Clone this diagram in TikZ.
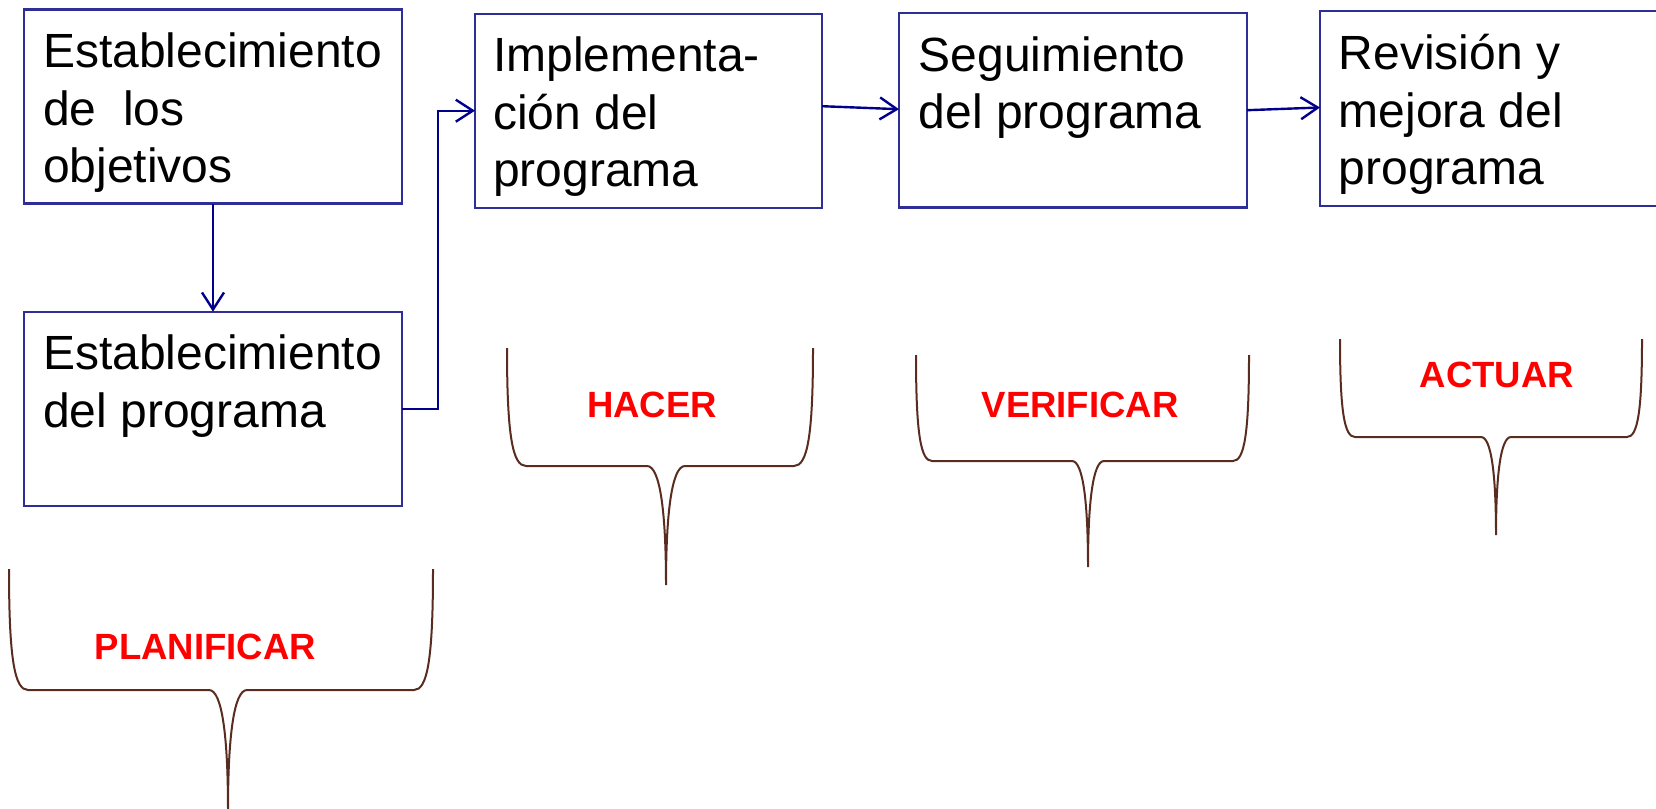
\documentclass[tikz,border=0pt]{standalone}
\usepackage{fontspec}
\setmainfont{Liberation Sans}
\usetikzlibrary{arrows.meta,calc}
\definecolor{boxblue}{RGB}{46,46,150}
\definecolor{linkblue}{RGB}{0,0,140}
\definecolor{bracebrown}{RGB}{88,44,30}
\definecolor{labelred}{RGB}{255,0,0}
% #1 xL, #2 xR, #3 xC, #4 yTop, #5 yMid, #6 yTip, #7 curve offset
\newcommand\pdcabrace[7]{%
  \draw[brace] (#1,#4)
    .. controls (#1,{#5-0.25*(#5-#4)}) and ({#1+0.3*#7},#5) .. ({#1+#7},#5)
    -- ({#3-#7},#5)
    .. controls ({#3-0.3*#7},#5) and (#3,{#5+0.4*(#6-#5)}) .. (#3,#6)
    .. controls (#3,{#5+0.4*(#6-#5)}) and ({#3+0.3*#7},#5) .. ({#3+#7},#5)
    -- ({#2-#7},#5)
    .. controls ({#2-0.3*#7},#5) and (#2,{#5-0.25*(#5-#4)}) .. (#2,#4);}
\begin{document}
\begin{tikzpicture}[x=1pt,y=-1pt,
  box/.style={draw=boxblue,line width=2.2pt,rectangle,anchor=north west,inner sep=0pt,outer sep=0pt},
  boxtext/.style={anchor=north west,inner sep=0pt,align=left,font=\fontsize{48}{57.5}\selectfont},
  link/.style={draw=linkblue,line width=2.4pt,-{Straight Barb[length=17pt,width=22pt]}},
  brace/.style={draw=bracebrown,line width=2pt},
  phase/.style={text=labelred,inner sep=0pt,font=\bfseries\fontsize{36.5}{44}\selectfont}]
\useasboundingbox (0,0) rectangle (1656,808);
\fill[white] (0,0) rectangle (1656,808);
\clip (0,0) rectangle (1656,808);

% boxes
\node[box,minimum width=378pt,minimum height=194pt] (obj) at (24,9.5) {};
\node[box,minimum width=378pt,minimum height=194.3pt] (est) at (24,311.7) {};
\node[box,minimum width=347pt,minimum height=194pt] (imp) at (475,13.7) {};
\node[box,minimum width=348pt,minimum height=194.4pt] (seg) at (899,13) {};
\node[box,minimum width=350pt,minimum height=194.2pt] (rev) at (1320,11.4) {};

% box texts
\node[boxtext] (objt) at ($(obj.north west)+(19,10)$) {\rule{0pt}{1em}Establecimiento\\de~~los\\objetivos};
\node[boxtext] (estt) at ($(est.north west)+(19,10)$) {\rule{0pt}{1em}Establecimiento\\del programa};
\node[boxtext] (impt) at ($(imp.north west)+(18,10)$) {\rule{0pt}{1em}Implementa-\\ción del\\programa};
\node[boxtext] (segt) at ($(seg.north west)+(19.5,10)$) {\rule{0pt}{1em}Seguimiento\\del programa};
\node[boxtext] (revt) at ($(rev.north west)+(18.5,10)$) {\rule{0pt}{1em}Revisión y\\mejora del\\programa};

% connectors
\draw[link] (obj.south) -- (est.north);
\draw[link] (est.east) -- ++(36,0) |- (imp.west);
\draw[link] ($(imp.east)+(0,-4.5)$) -- ($(seg.west)+(0,-1)$);
\draw[link] (seg.east) -- ($(rev.west)+(0,-1)$);

% braces
\pdcabrace{9}{433}{228}{569}{690}{810}{19}
\pdcabrace{507}{813}{666}{348}{466}{585}{19}
\pdcabrace{916}{1249}{1088}{355}{461}{567}{16}
\pdcabrace{1340}{1642}{1496}{339}{437}{535}{15}

% phase labels
\node[phase] (plan) at (205.5,646.5) {PLANIFICAR};
\node[phase] (hacer) at (652,405) {HACER};
\node[phase] (verif) at (1080,404.5) {VERIFICAR};
\node[phase] (actuar) at (1497,374.5) {ACTUAR};
\end{tikzpicture}
\end{document}
